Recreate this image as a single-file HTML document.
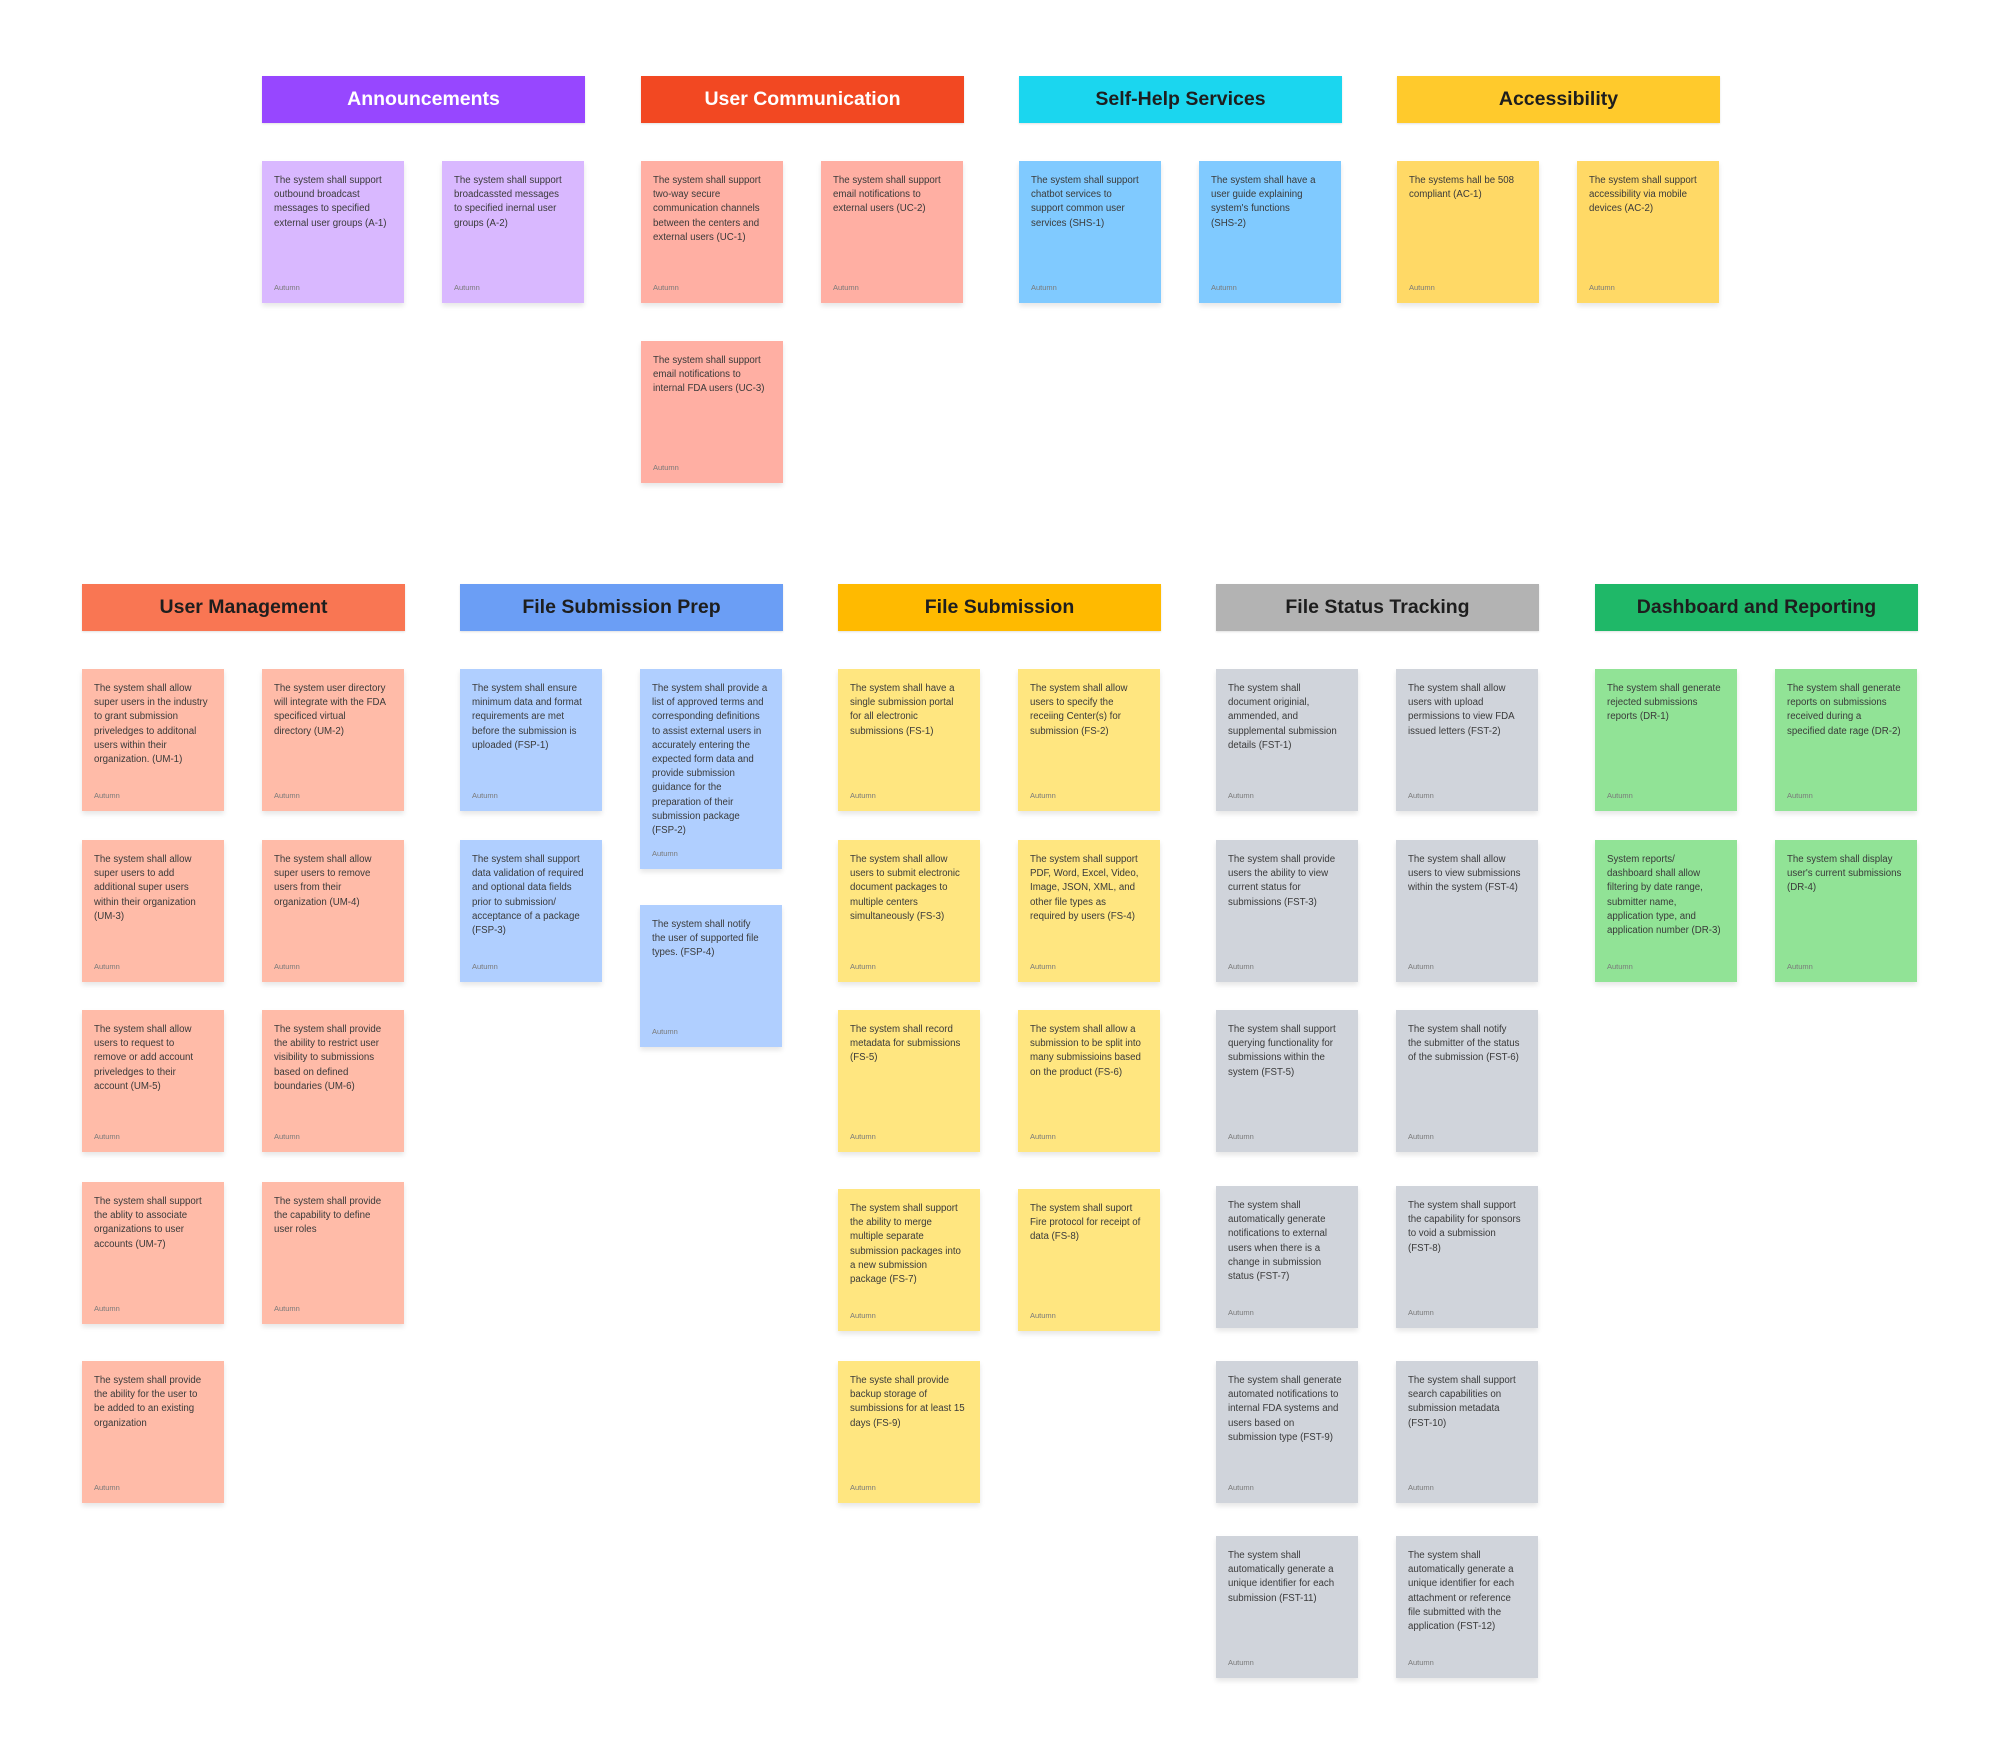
<!DOCTYPE html>
<html><head><meta charset="utf-8"><style>
html,body{margin:0;padding:0;background:#fff;}
body{width:2000px;height:1763px;position:relative;overflow:hidden;font-family:"Liberation Sans",sans-serif;}
.h{position:absolute;width:323px;height:47px;line-height:47px;text-align:center;font-weight:bold;font-size:19.5px;color:#1e1e1e;box-shadow:0 1px 2px rgba(0,0,0,0.12);}
.s{position:absolute;width:142px;height:142px;box-sizing:border-box;padding:13px 12px 0 12px;font-size:9.7px;line-height:14.2px;color:#3a3a3a;white-space:nowrap;box-shadow:0 3px 5px rgba(0,0,0,0.10);}
.s i{position:absolute;left:12px;top:120px;font-style:normal;font-size:7.5px;color:#7a7a7a;}
.a{background:#D9B8FF}.uc{background:#FFAFA3}.sh{background:#80CAFF}.ac{background:#FFD966}
.um{background:#FFBBA8}.fp{background:#B0CFFF}.fs{background:#FFE680}.ft{background:#D0D4DB}.dr{background:#91E396}
</style></head><body>

<div class="h" style="left:262px;top:76px;background:#9747FF;color:#fff">Announcements</div>
<div class="h" style="left:641px;top:76px;background:#F24822;color:#fff">User Communication</div>
<div class="h" style="left:1019px;top:76px;background:#1BD6EF">Self-Help Services</div>
<div class="h" style="left:1397px;top:76px;background:#FFCA2C">Accessibility</div>

<div class="s a" style="left:262px;top:161px">The system shall support<br>outbound broadcast<br>messages to specified<br>external user groups (A-1)<i>Autumn</i></div>
<div class="s a" style="left:442px;top:161px">The system shall support<br>broadcassted messages<br>to specified inernal user<br>groups (A-2)<i>Autumn</i></div>
<div class="s uc" style="left:641px;top:161px">The system shall support<br>two-way secure<br>communication channels<br>between the centers and<br>external users (UC-1)<i>Autumn</i></div>
<div class="s uc" style="left:821px;top:161px">The system shall support<br>email notifications to<br>external users (UC-2)<i>Autumn</i></div>
<div class="s uc" style="left:641px;top:341px">The system shall support<br>email notifications to<br>internal FDA users (UC-3)<i>Autumn</i></div>
<div class="s sh" style="left:1019px;top:161px">The system shall support<br>chatbot services to<br>support common user<br>services (SHS-1)<i>Autumn</i></div>
<div class="s sh" style="left:1199px;top:161px">The system shall have a<br>user guide explaining<br>system's functions<br>(SHS-2)<i>Autumn</i></div>
<div class="s ac" style="left:1397px;top:161px">The systems hall be 508<br>compliant (AC-1)<i>Autumn</i></div>
<div class="s ac" style="left:1577px;top:161px">The system shall support<br>accessibility via mobile<br>devices (AC-2)<i>Autumn</i></div>

<div class="h" style="left:82px;top:584px;background:#F97653">User Management</div>
<div class="h" style="left:460px;top:584px;background:#6B9EF5">File Submission Prep</div>
<div class="h" style="left:838px;top:584px;background:#FFBA00">File Submission</div>
<div class="h" style="left:1216px;top:584px;background:#B3B3B3">File Status Tracking</div>
<div class="h" style="left:1595px;top:584px;background:#1FB868">Dashboard and Reporting</div>

<div class="s um" style="left:82px;top:669px">The system shall allow<br>super users in the industry<br>to grant submission<br>priveledges to additonal<br>users within their<br>organization. (UM-1)<i>Autumn</i></div>
<div class="s um" style="left:262px;top:669px">The system user directory<br>will integrate with the FDA<br>specificed virtual<br>directory (UM-2)<i>Autumn</i></div>
<div class="s um" style="left:82px;top:840px">The system shall allow<br>super users to add<br>additional super users<br>within their organization<br>(UM-3)<i>Autumn</i></div>
<div class="s um" style="left:262px;top:840px">The system shall allow<br>super users to remove<br>users from their<br>organization (UM-4)<i>Autumn</i></div>
<div class="s um" style="left:82px;top:1010px">The system shall allow<br>users to request to<br>remove or add account<br>priveledges to their<br>account (UM-5)<i>Autumn</i></div>
<div class="s um" style="left:262px;top:1010px">The system shall provide<br>the ability to restrict user<br>visibility to submissions<br>based on defined<br>boundaries (UM-6)<i>Autumn</i></div>
<div class="s um" style="left:82px;top:1182px">The system shall support<br>the ablity to associate<br>organizations to user<br>accounts (UM-7)<i>Autumn</i></div>
<div class="s um" style="left:262px;top:1182px">The system shall provide<br>the capability to define<br>user roles<i>Autumn</i></div>
<div class="s um" style="left:82px;top:1361px">The system shall provide<br>the ability for the user to<br>be added to an existing<br>organization<i>Autumn</i></div>

<div class="s fp" style="left:460px;top:669px">The system shall ensure<br>minimum data and format<br>requirements are met<br>before the submission is<br>uploaded (FSP-1)<i>Autumn</i></div>
<div class="s fp" style="left:640px;top:669px;height:200px">The system shall provide a<br>list of approved terms and<br>corresponding definitions<br>to assist external users in<br>accurately entering the<br>expected form data and<br>provide submission<br>guidance for the<br>preparation of their<br>submission package<br>(FSP-2)<i style="top:178px">Autumn</i></div>
<div class="s fp" style="left:460px;top:840px">The system shall support<br>data validation of required<br>and optional data fields<br>prior to submission/<br>acceptance of a package<br>(FSP-3)<i>Autumn</i></div>
<div class="s fp" style="left:640px;top:905px">The system shall notify<br>the user of supported file<br>types. (FSP-4)<i>Autumn</i></div>

<div class="s fs" style="left:838px;top:669px">The system shall have a<br>single submission portal<br>for all electronic<br>submissions (FS-1)<i>Autumn</i></div>
<div class="s fs" style="left:1018px;top:669px">The system shall allow<br>users to specify the<br>receiing Center(s) for<br>submission (FS-2)<i>Autumn</i></div>
<div class="s fs" style="left:838px;top:840px">The system shall allow<br>users to submit electronic<br>document packages to<br>multiple centers<br>simultaneously (FS-3)<i>Autumn</i></div>
<div class="s fs" style="left:1018px;top:840px">The system shall support<br>PDF, Word, Excel, Video,<br>Image, JSON, XML, and<br>other file types as<br>required by users (FS-4)<i>Autumn</i></div>
<div class="s fs" style="left:838px;top:1010px">The system shall record<br>metadata for submissions<br>(FS-5)<i>Autumn</i></div>
<div class="s fs" style="left:1018px;top:1010px">The system shall allow a<br>submission to be split into<br>many submissioins based<br>on the product (FS-6)<i>Autumn</i></div>
<div class="s fs" style="left:838px;top:1189px">The system shall support<br>the ability to merge<br>multiple separate<br>submission packages into<br>a new submission<br>package (FS-7)<i>Autumn</i></div>
<div class="s fs" style="left:1018px;top:1189px">The system shall suport<br>Fire protocol for receipt of<br>data (FS-8)<i>Autumn</i></div>
<div class="s fs" style="left:838px;top:1361px">The syste shall provide<br>backup storage of<br>sumbissions for at least 15<br>days (FS-9)<i>Autumn</i></div>

<div class="s ft" style="left:1216px;top:669px">The system shall<br>document originial,<br>ammended, and<br>supplemental submission<br>details (FST-1)<i>Autumn</i></div>
<div class="s ft" style="left:1396px;top:669px">The system shall allow<br>users with upload<br>permissions to view FDA<br>issued letters (FST-2)<i>Autumn</i></div>
<div class="s ft" style="left:1216px;top:840px">The system shall provide<br>users the ability to view<br>current status for<br>submissions (FST-3)<i>Autumn</i></div>
<div class="s ft" style="left:1396px;top:840px">The system shall allow<br>users to view submissions<br>within the system (FST-4)<i>Autumn</i></div>
<div class="s ft" style="left:1216px;top:1010px">The system shall support<br>querying functionality for<br>submissions within the<br>system (FST-5)<i>Autumn</i></div>
<div class="s ft" style="left:1396px;top:1010px">The system shall notify<br>the submitter of the status<br>of the submission (FST-6)<i>Autumn</i></div>
<div class="s ft" style="left:1216px;top:1186px">The system shall<br>automatically generate<br>notifications to external<br>users when there is a<br>change in submission<br>status (FST-7)<i>Autumn</i></div>
<div class="s ft" style="left:1396px;top:1186px">The system shall support<br>the capability for sponsors<br>to void a submission<br>(FST-8)<i>Autumn</i></div>
<div class="s ft" style="left:1216px;top:1361px">The system shall generate<br>automated notifications to<br>internal FDA systems and<br>users based on<br>submission type (FST-9)<i>Autumn</i></div>
<div class="s ft" style="left:1396px;top:1361px">The system shall support<br>search capabilities on<br>submission metadata<br>(FST-10)<i>Autumn</i></div>
<div class="s ft" style="left:1216px;top:1536px">The system shall<br>automatically generate a<br>unique identifier for each<br>submission (FST-11)<i>Autumn</i></div>
<div class="s ft" style="left:1396px;top:1536px">The system shall<br>automatically generate a<br>unique identifier for each<br>attachment or reference<br>file submitted with the<br>application (FST-12)<i>Autumn</i></div>

<div class="s dr" style="left:1595px;top:669px">The system shall generate<br>rejected submissions<br>reports (DR-1)<i>Autumn</i></div>
<div class="s dr" style="left:1775px;top:669px">The system shall generate<br>reports on submissions<br>received during a<br>specified date rage (DR-2)<i>Autumn</i></div>
<div class="s dr" style="left:1595px;top:840px">System reports/<br>dashboard shall allow<br>filtering by date range,<br>submitter name,<br>application type, and<br>application number (DR-3)<i>Autumn</i></div>
<div class="s dr" style="left:1775px;top:840px">The system shall display<br>user's current submissions<br>(DR-4)<i>Autumn</i></div>

</body></html>
